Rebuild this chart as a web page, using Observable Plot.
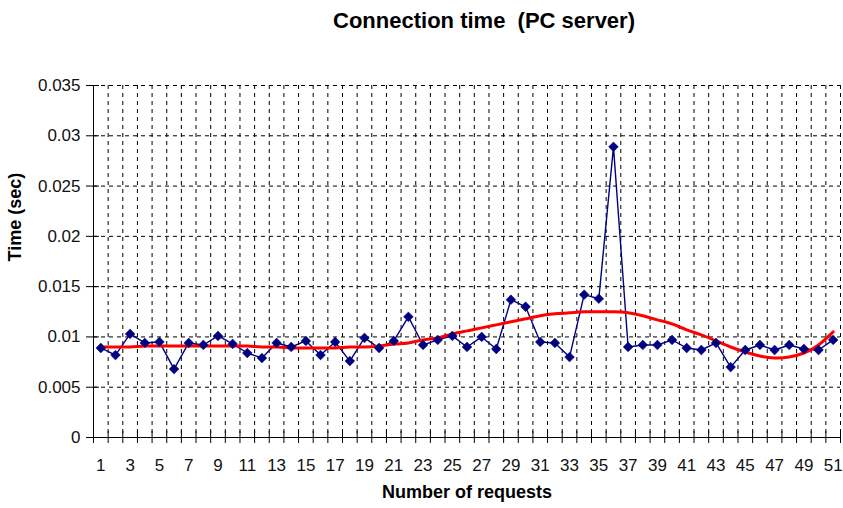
<!DOCTYPE html>
<html>
<head>
<meta charset="utf-8">
<script src="https://cdn.jsdelivr.net/npm/d3@7"></script>
<script src="https://cdn.jsdelivr.net/npm/@observablehq/plot@0.6"></script>
<style>
  html, body { margin: 0; padding: 0; background: #fff; }
</style>
</head>
<body>
<div id="chart"></div>
<script>
const title = "Connection time \u00a0(PC server)";
const xLabel = "Number of requests";
const yLabel = "Time (sec)";

const requests = d3.range(1, 52);
const connectionTime = [
  0.0089, 0.0082, 0.0103, 0.0094, 0.0095, 0.0068, 0.0094, 0.0092, 0.0101, 0.0093,
  0.0084, 0.0079, 0.0094, 0.0090, 0.0096, 0.0082, 0.0095, 0.0076, 0.0099, 0.0089,
  0.0096, 0.0120, 0.0092, 0.0097, 0.0101, 0.0090, 0.0100, 0.0088, 0.0137, 0.0130,
  0.0095, 0.0094, 0.0080, 0.0142, 0.0138, 0.0289, 0.0090, 0.0092, 0.0092, 0.0097,
  0.0089, 0.0087, 0.0094, 0.0070, 0.0087, 0.0092, 0.0087, 0.0092, 0.0088, 0.0087,
  0.0097
];
const trendTime = [
  0.0090, 0.0090, 0.0090, 0.0091, 0.0091, 0.0091, 0.0091, 0.0091, 0.0091, 0.0091,
  0.0091, 0.0090, 0.0090, 0.0089, 0.0089, 0.0089, 0.0089, 0.0090, 0.0090, 0.0091,
  0.0093, 0.0094, 0.0097, 0.0099, 0.0103, 0.0106, 0.0109, 0.0112, 0.0115, 0.0118,
  0.0121, 0.0123, 0.0124, 0.0125, 0.0125, 0.0125, 0.0124, 0.0121, 0.0117, 0.0113,
  0.0107, 0.0102, 0.0096, 0.0090, 0.0085, 0.0081, 0.0079, 0.0080, 0.0084, 0.0092,
  0.0105
];
const yTicks = [0, 0.005, 0.01, 0.015, 0.02, 0.025, 0.03, 0.035];
const xTickLabels = [1,3,5,7,9,11,13,15,17,19,21,23,25,27,29,31,33,35,37,39,41,43,45,47,49,51];

const series = requests.map((r, i) => ({r, t: connectionTime[i]}));
const trend = requests.map((r, i) => ({r, t: trendTime[i]}));
const boundaries = d3.range(0.5, 52, 1);

const font = "'Liberation Sans', Arial, sans-serif";

const chart = Plot.plot({
  width: 843,
  height: 508,
  marginLeft: 93,
  marginRight: 3,
  marginTop: 85,
  marginBottom: 71,
  style: {fontFamily: font, background: "#fff", overflow: "visible"},
  x: {domain: [0.5, 51.5], axis: null},
  y: {domain: [0, 0.035], axis: null},
  marks: [
    Plot.ruleY(yTicks.slice(1), {stroke: "#000", strokeWidth: 1, strokeDasharray: "4,4"}),
    Plot.ruleX(boundaries.slice(1), {stroke: "#000", strokeWidth: 1, strokeDasharray: "4,4"}),
    Plot.ruleX([0.5], {stroke: "#000", strokeWidth: 1}),
    Plot.ruleY([0], {stroke: "#000", strokeWidth: 1}),
    Plot.ruleY(yTicks, {y: d => d, x1: 0.5, x2: 0.5, insetLeft: -7, insetRight: -6, stroke: "#000"}),
    Plot.ruleX(boundaries, {x: d => d, y1: 0, y2: 0, insetTop: -6, insetBottom: -6, stroke: "#000"}),
    Plot.text(yTicks, {x: 0.5, y: d => d, text: d => String(d), textAnchor: "end", dx: -13, fontSize: 17, fill: "#111"}),
    Plot.text(xTickLabels, {x: d => d, y: 0, text: d => String(d), dy: 28.5, fontSize: 17, fill: "#111"}),
    Plot.line(series, {x: "r", y: "t", stroke: "#000080", strokeWidth: 1.4}),
    Plot.line(trend, {x: "r", y: "t", stroke: "#ff0000", strokeWidth: 3, curve: "natural"}),
    Plot.dot(series, {x: "r", y: "t", symbol: "diamond2", r: 4.4, fill: "#000080", stroke: "#000080", strokeWidth: 0.5}),
    Plot.text([title], {frameAnchor: "top", dx: 17, dy: -64, fontSize: 22, fontWeight: "bold", fill: "#000", style: "letter-spacing:0.4px"}),
    Plot.text([xLabel], {frameAnchor: "bottom", dx: 0, dy: 60, fontSize: 18, fontWeight: "bold", fill: "#000"}),
    Plot.text([yLabel], {frameAnchor: "left", dx: -78, dy: 0, rotate: -90, fontSize: 18, fontWeight: "bold", fill: "#000"})
  ]
});
document.getElementById("chart").appendChild(chart);
// nudge the title up to its place above the frame
const texts = chart.querySelectorAll("text");
texts.forEach(t => { if (t.textContent === title) t.setAttribute("dy", "-0.4em"); });
</script>
</body>
</html>
